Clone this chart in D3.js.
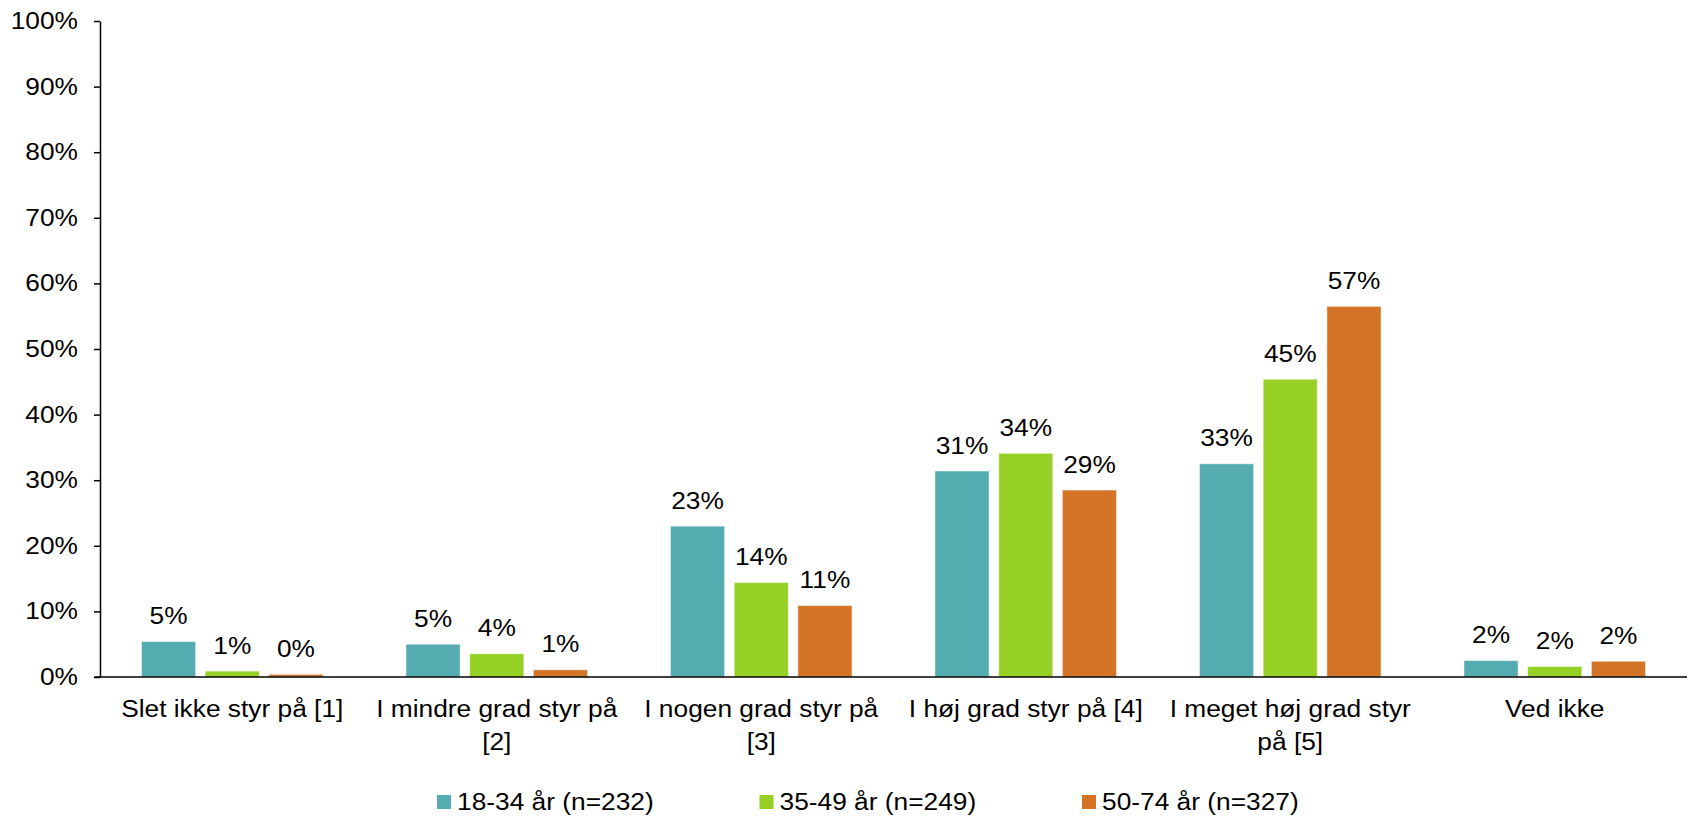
<!DOCTYPE html>
<html>
<head>
<meta charset="utf-8">
<script src="https://cdn.jsdelivr.net/npm/d3@7"></script>
<style>
  html, body { margin: 0; padding: 0; background: #fff; }
  svg { display: block; font-family: "Liberation Sans", Arial, sans-serif; }
</style>
</head>
<body>
<svg id="chart" width="1692" height="818"></svg>
<script>
// ---- data ----
const categories = [
  "Slet ikke styr på [1]",
  "I mindre grad styr på [2]",
  "I nogen grad styr på [3]",
  "I høj grad styr på [4]",
  "I meget høj grad styr på [5]",
  "Ved ikke"
];
const categoryLines = [
  ["Slet ikke styr på [1]"],
  ["I mindre grad styr på", "[2]"],
  ["I nogen grad styr på", "[3]"],
  ["I høj grad styr på [4]"],
  ["I meget høj grad styr", "på [5]"],
  ["Ved ikke"]
];
const seriesNames = ["18-34 år (n=232)", "35-49 år (n=249)", "50-74 år (n=327)"];
const values18 = [5.4, 5.0, 23.0, 31.4, 32.5, 2.5];
const values35 = [0.9, 3.55, 14.4, 34.1, 45.4, 1.6];
const values50 = [0.4, 1.1, 10.9, 28.5, 56.5, 2.4];
const labels18 = ["5%", "5%", "23%", "31%", "33%", "2%"];
const labels35 = ["1%", "4%", "14%", "34%", "45%", "2%"];
const labels50 = ["0%", "1%", "11%", "29%", "57%", "2%"];
const yTicks = [0, 10, 20, 30, 40, 50, 60, 70, 80, 90, 100];
const colors = ["#54ACB0", "#96D024", "#D47426"];

// ---- layout ----
const svg = d3.select("#chart");
const plotLeft = 100, plotRight = 1687, plotTop = 21, plotBase = 677;
const FS = 23.5, SX = 1.12;

const x0 = d3.scaleBand().domain(categories).range([plotLeft, plotRight]).padding(0);
const x1 = d3.scaleBand().domain(d3.range(3)).range([0, x0.bandwidth()])
  .paddingInner(0.15).paddingOuter(0.651);
const y = d3.scaleLinear().domain([0, 100]).range([plotBase, plotTop]);

const series = [
  { name: seriesNames[0], values: values18, labels: labels18, color: colors[0] },
  { name: seriesNames[1], values: values35, labels: labels35, color: colors[1] },
  { name: seriesNames[2], values: values50, labels: labels50, color: colors[2] }
];

function stretchedText(parent, x, yy, txt, anchor, size) {
  const g = parent.append("g").attr("transform", `translate(${x},${yy}) scale(${SX},1)`);
  return g.append("text").attr("x", 0).attr("y", 0)
    .attr("text-anchor", anchor).attr("font-size", size).attr("fill", "#000").text(txt);
}

// y axis
const yAxis = d3.axisLeft(y).tickValues(yTicks).tickFormat(d => d + "%")
  .tickSize(6).tickSizeOuter(0).tickPadding(22);
const gy = svg.append("g").attr("transform", `translate(${plotLeft},0)`).call(yAxis);
gy.select(".domain").attr("stroke", "#000").attr("stroke-width", 1.5);
gy.selectAll(".tick line").attr("stroke", "#000").attr("stroke-width", 1.5);
gy.selectAll(".tick text")
  .attr("font-size", FS).attr("fill", "#000")
  .attr("font-family", "'Liberation Sans', Arial, sans-serif")
  .attr("x", 0)
  .attr("transform", `translate(-22,0) scale(${SX},1)`);

// bars
categories.forEach((c, ci) => {
  const g = svg.append("g").attr("transform", `translate(${x0(c)},0)`);
  series.forEach((s, si) => {
    g.append("rect")
      .attr("x", x1(si))
      .attr("y", y(s.values[ci]))
      .attr("width", x1.bandwidth())
      .attr("height", plotBase - y(s.values[ci]))
      .attr("fill", s.color)
      .attr("stroke", "rgba(255,255,255,0.5)")
      .attr("stroke-width", 1);
    stretchedText(g, x1(si) + x1.bandwidth() / 2, y(s.values[ci]) - 17.5, s.labels[ci], "middle", FS);
  });
});

// x axis line
svg.append("line")
  .attr("x1", plotLeft - 6).attr("x2", plotRight)
  .attr("y1", plotBase).attr("y2", plotBase)
  .attr("stroke", "#000").attr("stroke-width", 1.5);

// category labels
categories.forEach((c, ci) => {
  categoryLines[ci].forEach((line, li) => {
    stretchedText(svg, x0(c) + x0.bandwidth() / 2, 717 + li * 33, line, "middle", FS);
  });
});

// legend
const legendX = [437, 759.5, 1082];
series.forEach((s, si) => {
  const g = svg.append("g").attr("transform", `translate(${legendX[si]},802)`);
  g.append("rect").attr("x", 0).attr("y", -7).attr("width", 14).attr("height", 14).attr("fill", s.color);
  stretchedText(g, 20, 0, s.name, "start", FS).attr("dy", "0.35em");
});
</script>
</body>
</html>
